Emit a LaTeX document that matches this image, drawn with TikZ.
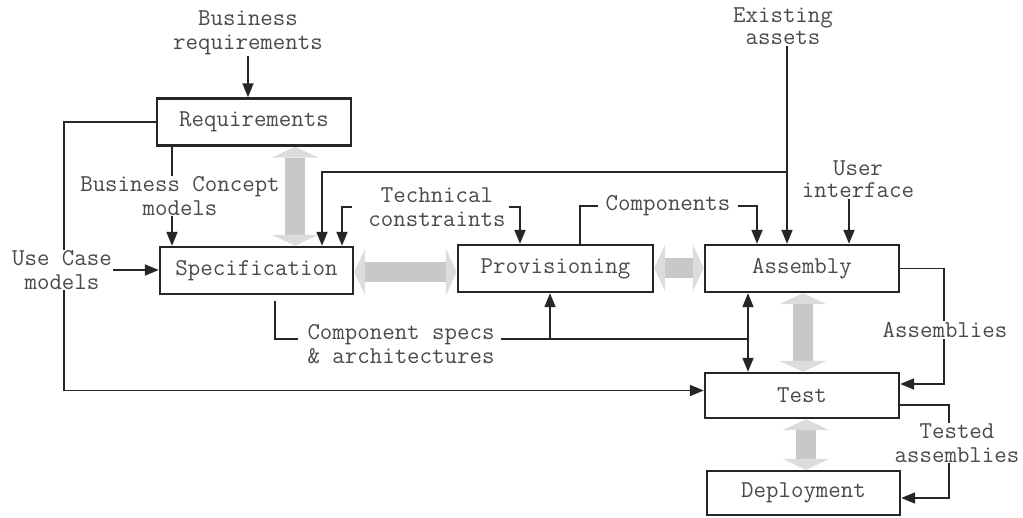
\documentclass[tikz,border=0pt]{standalone}
\usepackage{fontspec}
\usetikzlibrary{arrows.meta}
\pgfdeclarelayer{background}
\pgfsetlayers{background,main}

\definecolor{ink}{HTML}{262626}
\definecolor{txt}{HTML}{4A4A4A}
\definecolor{shaft}{HTML}{C8C8C8}
\definecolor{headgrey}{HTML}{DCDCDC}

\tikzset{
  every node/.style={font=\ttfamily\fontsize{24.2}{23.5}\selectfont, text=txt},
  tight/.style={font=\ttfamily\fontsize{24.2}{22}\selectfont},
  box/.style={draw=ink, line width=2.4pt, minimum width=194pt, minimum height=47pt, inner sep=0pt},
  lbl/.style={align=center, inner sep=1pt},
  blank/.style={fill=white},
  wire/.style={draw=ink, line width=1.8pt},
  arr/.style={wire, -{Triangle[length=14pt,width=11pt]}},
  flow/.style={draw=shaft, line width=20pt,
    {Triangle[length=11pt,width=47pt,line width=0pt,color=headgrey]}-{Triangle[length=11pt,width=47pt,line width=0pt,color=headgrey]}},
}

\begin{document}
\begin{tikzpicture}[x=1pt,y=-1pt]
\useasboundingbox (0,0) rectangle (1023,517);

% process boxes
\node[box] (req) at (254,122) {Requirements};
\node[box, minimum width=193pt] (spec) at (256.5,270.5) {Specification};
\node[box, minimum width=195pt] (prov) at (555.5,268.5) {Provisioning};
\node[box] (asm) at (802,268.5) {Assembly};
\node[box, minimum height=45pt] (test) at (802,395.5) {Test};
\node[box, minimum width=193pt, minimum height=44pt] (dep) at (803.5,493) {Deployment};

% broad grey flows between the stages
\begin{pgfonlayer}{background}
\draw[flow] (req.south -| 295,0) -- (spec.north -| 295,0);
\draw[flow] (spec.east |- 0,272) -- (prov.west |- 0,272);
\draw[flow] (prov.east |- 0,268) -- (asm.west |- 0,268);
\draw[flow] (asm.south -| 803,0) -- (test.north -| 803,0);
\draw[flow] (test.south -| 806,0) -- (dep.north -| 806,0);
\end{pgfonlayer}

% inputs from outside
\node[lbl] (breq) at (248,33) {Business\\requirements};
\draw[arr] (breq.south) -- (breq.south |- req.north);

\node[lbl, tight] (ea) at (783,26) {Existing\\assets};
\draw[arr] (ea.south -| 787,0) -- (asm.north -| 787,0);
\coordinate (ej) at (787,172);
\draw[arr] (ej) -| (spec.north -| 322,0);

\node[lbl] (tc) at (437,207) {Technical\\constraints};
\draw[arr] ([xshift=-15pt]tc.west) -| (spec.north -| 342,0);
\draw[arr] ([xshift=2pt]tc.east) -| (prov.north -| 520,0);

\node[lbl] (comp) at (668,206) {Components};
\draw (prov.north -| 580,0) [wire] |- ([xshift=-6pt]comp.west);
\draw[arr] ([xshift=6pt]comp.east) -| (asm.north -| 757,0);

\node[lbl, tight] (ui) at (858,179) {User\\interface};
\draw[arr] (ui.south -| 849,0) -- (asm.north -| 849,0);

% use case models loop to test
\draw[arr] (req.west) -- ++(-92,0) |- ([yshift=5pt]test.west);
\node[lbl, blank] (uc) at (62,270) {Use Case\\models};
\draw[arr] (uc.east) -- (uc.east -| spec.west);

% business concept models
\draw[arr] (req.south -| 172,0) -- (spec.north -| 172,0);
\node[lbl, blank] (bcm) at (180,196) {Business Concept\\models};

% component specs & architectures
\node[lbl] (cs) at (401,344) {Component specs\\\& architectures};
\coordinate (csfoot) at (275,301);
\draw[wire] (csfoot) |- ([xshift=-8pt,yshift=5pt]cs.west);
\coordinate (jp) at (550,339);
\coordinate (ja) at (748,339);
\draw[wire] ([xshift=5pt,yshift=5pt]cs.east) -- (ja);
\draw[arr] (jp) -- (jp |- prov.south);
\draw[arr] (ja) -- (ja |- asm.south);
\draw[arr] (ja) -- (ja |- test.north);

% assemblies and tested assemblies
\draw[arr] (asm.east) -- ++(44,0) |- ([yshift=11.5pt]test.east);
\node[lbl, blank] (asy) at (945,330) {Assemblies};
\draw[arr] ([yshift=-9.5pt]test.east) -- ++(49,0) |- ([yshift=-5pt]dep.east);
\node[lbl, blank] (tas) at (957,443) {Tested\\assemblies};
\end{tikzpicture}
\end{document}
